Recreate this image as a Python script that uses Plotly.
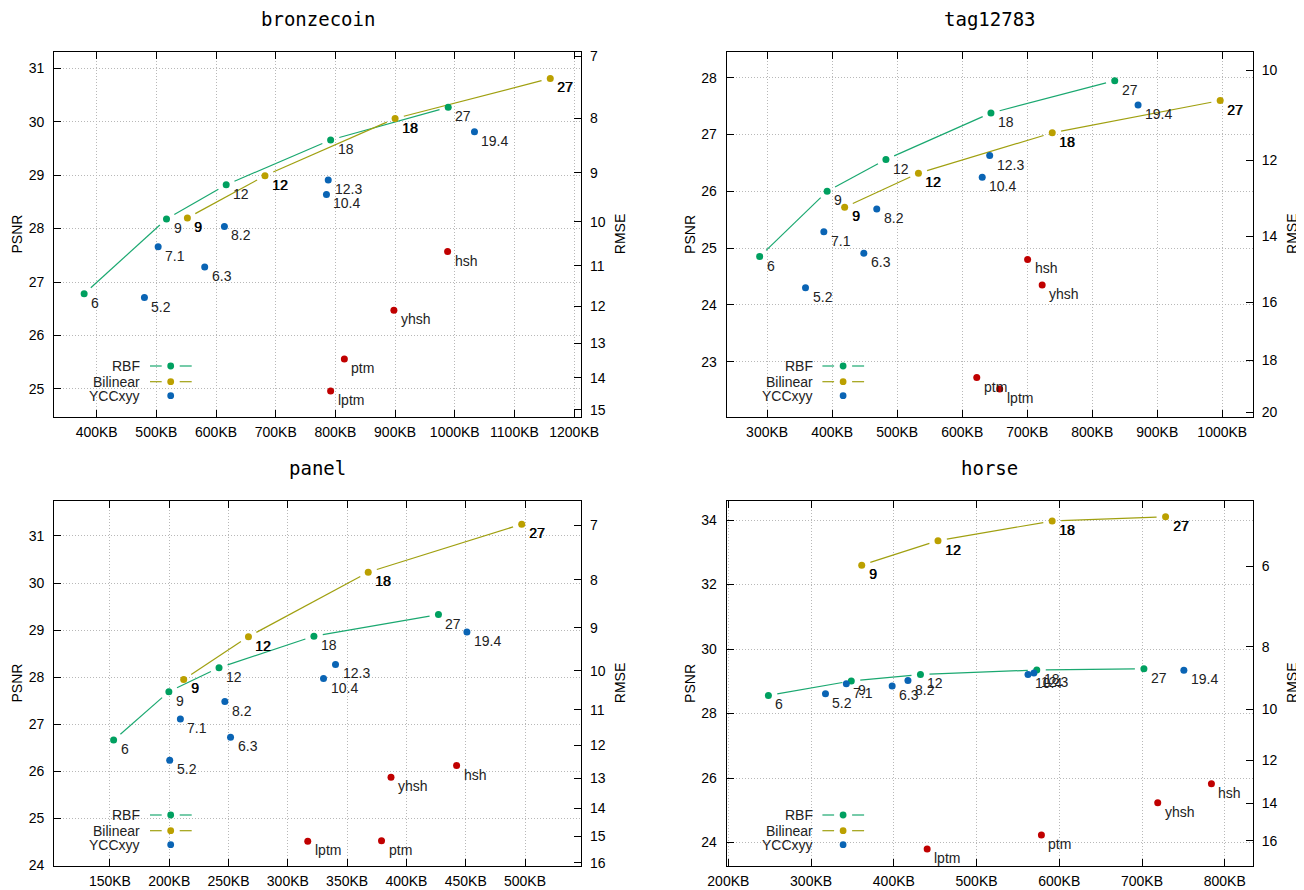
import math
import plotly.graph_objects as go

# ---------------- data (KB, PSNR) ----------------
rbf_labels = ["6", "9", "12", "18", "27"]
bil_labels = ["9", "12", "18", "27"]
ycc_labels = ["5.2", "7.1", "6.3", "8.2", "10.4", "12.3", "19.4"]
ref_labels = ["hsh", "yhsh", "ptm", "lptm"]

bronze_rbf_kb = [379, 517, 617, 792, 989]
bronze_rbf_psnr = [26.78, 28.18, 28.82, 29.66, 30.27]
bronze_bil_kb = [552, 682, 900, 1160]
bronze_bil_psnr = [28.20, 28.99, 30.06, 30.81]
bronze_ycc_kb = [480, 503, 581, 614, 785, 788, 1033]
bronze_ycc_psnr = [26.71, 27.66, 27.28, 28.04, 28.64, 28.91, 29.81]
bronze_ref_kb = [988, 898, 815, 792]
bronze_ref_psnr = [27.57, 26.47, 25.56, 24.96]

tag_rbf_kb = [288.5, 392.3, 482.7, 644.2, 834.6]
tag_rbf_psnr = [24.85, 26.00, 26.56, 27.38, 27.95]
tag_bil_kb = [419.2, 532.7, 738.5, 996.8]
tag_bil_psnr = [25.72, 26.32, 27.03, 27.60]
tag_ycc_kb = [359, 387.2, 448.7, 468.6, 630.8, 642.3, 870.5]
tag_ycc_psnr = [24.30, 25.29, 24.91, 25.69, 26.25, 26.63, 27.52]
tag_ref_kb = [700.6, 723, 622.4, 657.7]
tag_ref_psnr = [24.80, 24.35, 22.72, 22.52]

panel_rbf_kb = [153.1, 199.7, 242, 322, 427]
panel_rbf_psnr = [26.66, 27.69, 28.20, 28.87, 29.33]
panel_bil_kb = [212.2, 266.8, 367.8, 497.2]
panel_bil_psnr = [27.95, 28.86, 30.23, 31.25]
panel_ycc_kb = [200.4, 209.4, 251.7, 246.9, 330.1, 340.2, 451]
panel_ycc_psnr = [26.23, 27.11, 26.72, 27.48, 27.97, 28.27, 28.96]
panel_ref_kb = [442.3, 387, 379, 316.8]
panel_ref_psnr = [26.12, 25.87, 24.52, 24.51]

horse_rbf_kb = [248.4, 348.6, 432.2, 572.8, 702.3]
horse_rbf_psnr = [28.56, 29.01, 29.21, 29.35, 29.39]
horse_bil_kb = [361.2, 453.4, 591.4, 728.5]
horse_bil_psnr = [32.60, 33.36, 33.97, 34.10]
horse_ycc_kb = [317.4, 342.6, 398, 417.1, 562.2, 569.3, 750.6]
horse_ycc_psnr = [28.61, 28.92, 28.85, 29.02, 29.21, 29.26, 29.34]
horse_ref_kb = [783.9, 719, 578.4, 440.3]
horse_ref_psnr = [25.82, 25.23, 24.23, 23.80]

bronze_rmse_ticks = [7, 8, 9, 10, 11, 12, 13, 14, 15]
tag_rmse_ticks = [10, 12, 14, 16, 18, 20]
panel_rmse_ticks = [7, 8, 9, 10, 11, 12, 13, 14, 15, 16]
horse_rmse_ticks = [6, 8, 10, 12, 14, 16]

series_names = ["RBF", "Bilinear", "YCCxyy"]

# ---------------- style ----------------
OFF = 8  # page body margin of the browser
W, H = 1304 - OFF, 890 - OFF
C_RBF_PT, C_RBF_LN = "#00a060", "#1aa870"
C_BIL_PT, C_BIL_LN = "#bba000", "#a0a010"
C_YCC = "#0a64b4"
C_REF = "#c00000"
FONT = "Liberation Sans, Arial, sans-serif"
MONO = "DejaVu Sans Mono, monospace"
GAP = 9  # px gap between line ends and point centres
MS = 7
GRID = dict(showgrid=True, gridcolor="#b8b8b8", griddash="1px,2px", gridwidth=1)

panels = [
    dict(title="bronzecoin", frame=(54.3, 51.7, 581.0, 416.7), xr=(329, 1211.5), yr=(24.48, 31.31), dx=100, dy=1,
         rbf=(bronze_rbf_kb, bronze_rbf_psnr), bil=(bronze_bil_kb, bronze_bil_psnr),
         ycc=(bronze_ycc_kb, bronze_ycc_psnr), ref=(bronze_ref_kb, bronze_ref_psnr), rmse=bronze_rmse_ticks),
    dict(title="tag12783", frame=(726.7, 51.7, 1252.7, 416.7), xr=(237.8, 1046.8), yr=(22.03, 28.46), dx=100, dy=1,
         rbf=(tag_rbf_kb, tag_rbf_psnr), bil=(tag_bil_kb, tag_bil_psnr),
         ycc=(tag_ycc_kb, tag_ycc_psnr), ref=(tag_ref_kb, tag_ref_psnr), rmse=tag_rmse_ticks),
    dict(title="panel", frame=(54.3, 500.7, 581.0, 865.7), xr=(103.1, 547.2), yr=(23.99, 31.75), dx=50, dy=1,
         rbf=(panel_rbf_kb, panel_rbf_psnr), bil=(panel_bil_kb, panel_bil_psnr),
         ycc=(panel_ycc_kb, panel_ycc_psnr), ref=(panel_ref_kb, panel_ref_psnr), rmse=panel_rmse_ticks),
    dict(title="horse", frame=(726.7, 500.7, 1252.7, 865.7), xr=(198, 833.8), yr=(23.28, 34.6), dx=100, dy=2,
         rbf=(horse_rbf_kb, horse_rbf_psnr), bil=(horse_bil_kb, horse_bil_psnr),
         ycc=(horse_ycc_kb, horse_ycc_psnr), ref=(horse_ref_kb, horse_ref_psnr), rmse=horse_rmse_ticks),
]


def px(x):
    return (x - OFF) / W


def py(y):
    return 1 - (y - OFF) / H


def gapped(xs, ys, sx, sy):
    ox, oy = [], []
    for i in range(len(xs) - 1):
        dxp = (xs[i + 1] - xs[i]) * sx
        dyp = (ys[i + 1] - ys[i]) * sy
        L = math.hypot(dxp, dyp)
        if L <= 2 * GAP:
            continue
        f = GAP / L
        ox += [xs[i] + (xs[i + 1] - xs[i]) * f, xs[i + 1] - (xs[i + 1] - xs[i]) * f, None]
        oy += [ys[i] + (ys[i + 1] - ys[i]) * f, ys[i + 1] - (ys[i + 1] - ys[i]) * f, None]
    return ox, oy


fig = go.Figure()
layout = dict(template="none", width=W, height=H, autosize=False, margin=dict(l=0, r=0, t=0, b=0, pad=0),
              paper_bgcolor="white", plot_bgcolor="white", showlegend=False,
              font=dict(family=FONT, size=14, color="black"))
annotations, shapes = [], []

axis_common = dict(ticks="inside", ticklen=7, tickcolor="black", tickwidth=1, showline=True,
                   linecolor="black", linewidth=1.3, zeroline=False, automargin=False,
                   tickfont=dict(family=FONT, size=14, color="black"))

for i, p in enumerate(panels, start=1):
    l, t, r, b = p["frame"]
    xa, ya, ya2 = f"x{i}", f"y{i}", f"y{i + 4}"
    sx = (r - l) / (p["xr"][1] - p["xr"][0])
    sy = (b - t) / (p["yr"][1] - p["yr"][0])

    layout[f"xaxis{i}"] = dict(axis_common, domain=[px(l), px(r)], anchor=ya, range=list(p["xr"]),
                               tick0=0, dtick=p["dx"], ticksuffix="KB", mirror="ticks",
                               ticklabelstandoff=2, **GRID)
    layout[f"yaxis{i}"] = dict(axis_common, domain=[py(b), py(t)], anchor=xa, range=list(p["yr"]),
                               tick0=0, dtick=p["dy"], mirror=True, ticklabelstandoff=6, **GRID)
    rm = p["rmse"]
    layout[f"yaxis{i + 4}"] = dict(axis_common, overlaying=ya, side="right", anchor=xa, range=list(p["yr"]),
                                   tickvals=[20 * math.log10(255.0 / v) for v in rm],
                                   ticktext=[str(v) for v in rm], showgrid=False, showline=False,
                                   ticklabelstandoff=8)
    fig.add_trace(go.Scatter(x=[], y=[], xaxis=xa, yaxis=ya2, hoverinfo="skip"))

    # legend background box (hides grid lines)
    shapes.append(dict(type="rect", xref="paper", yref="paper", x0=px(l + 1), x1=px(l + 146),
                       y0=py(b - 1), y1=py(b - 60), fillcolor="white", line=dict(width=0), layer="between"))

    # lines with gaps near the points
    for key, col in (("rbf", C_RBF_LN), ("bil", C_BIL_LN)):
        gx, gy = gapped(p[key][0], p[key][1], sx, sy)
        fig.add_trace(go.Scatter(x=gx, y=gy, mode="lines", line=dict(color=col, width=1.2),
                                 xaxis=xa, yaxis=ya, hoverinfo="skip"))

    groups = [("rbf", C_RBF_PT, rbf_labels, "#222"), ("bil", C_BIL_PT, bil_labels, "#000"),
              ("ycc", C_YCC, ycc_labels, "#222"), ("ref", C_REF, ref_labels, "#222")]
    for key, col, labs, tcol in groups:
        xs, ys = p[key]
        fig.add_trace(go.Scatter(x=xs, y=ys, mode="markers", marker=dict(color=col, size=MS),
                                 xaxis=xa, yaxis=ya, hoverinfo="skip"))
        for xv, yv, lab in zip(xs, ys, labs):
            fnt = dict(family=FONT, size=14, color=tcol)
            if key == "bil":
                fnt["shadow"] = "0.6px 0 0 #000"
            annotations.append(dict(x=xv, y=yv, xref=xa, yref=ya, text=lab, showarrow=False,
                                    xanchor="left", yanchor="middle", xshift=5, yshift=-9, font=fnt))

    # title and axis labels
    annotations.append(dict(x=px((l + r) / 2), y=py(t - 33), xref="paper", yref="paper", text=p["title"],
                            showarrow=False, xanchor="center", yanchor="middle",
                            font=dict(family=MONO, size=19, color="black")))
    annotations.append(dict(x=px(l - 37), y=py((t + b) / 2), xref="paper", yref="paper", text="PSNR",
                            showarrow=False, textangle=-90, xanchor="center", yanchor="middle",
                            font=dict(family=FONT, size=14)))
    annotations.append(dict(x=px(r + 39), y=py((t + b) / 2), xref="paper", yref="paper", text="RMSE",
                            showarrow=False, textangle=-90, xanchor="center", yanchor="middle",
                            font=dict(family=FONT, size=14)))

    # manual legend (text right-aligned, then sample)
    leg = [(series_names[0], C_RBF_PT, C_RBF_LN, 50.7), (series_names[1], C_BIL_PT, C_BIL_LN, 35.0),
           (series_names[2], C_YCC, None, 21.0)]
    for name, pc, lc, off in leg:
        yy = b - off
        annotations.append(dict(x=px(l + 88), y=py(yy), xref="paper", yref="paper", text=name,
                                showarrow=False, xanchor="right", yanchor="middle",
                                font=dict(family=FONT, size=14, color="#222")))
        if lc:
            for a0, a1 in ((95.7, 107.4), (125.4, 137.4)):
                shapes.append(dict(type="line", xref="paper", yref="paper", x0=px(l + a0), x1=px(l + a1),
                                   y0=py(yy), y1=py(yy), line=dict(color=lc, width=1.2), layer="above"))
        shapes.append(dict(type="circle", xref="paper", yref="paper", xsizemode="pixel", ysizemode="pixel",
                           xanchor=px(l + 116.4), yanchor=py(yy), x0=-3.4, x1=3.4, y0=-3.4, y1=3.4,
                           fillcolor=pc, line=dict(width=0), layer="above"))

layout["annotations"] = annotations
layout["shapes"] = shapes
fig.update_layout(**layout)
fig.write_html("out.html")
